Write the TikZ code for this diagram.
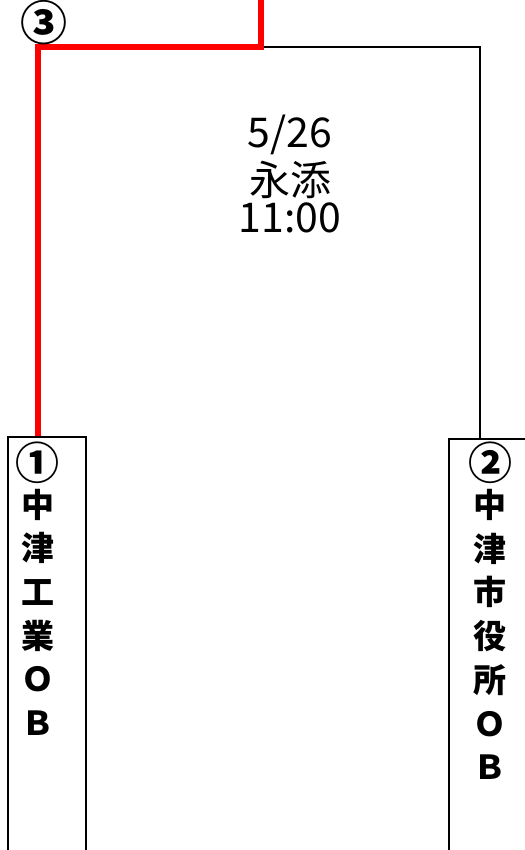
\documentclass[tikz,border=0pt]{standalone}
\usepackage{fontspec}
\newfontfamily\jp{Noto Sans CJK JP}
\begin{document}
\begin{tikzpicture}[x=1pt,y=-1pt,
  team/.style={draw=black,line width=1.3pt,minimum width=78pt,minimum height=415pt,inner sep=0pt},
  vch/.style={inner sep=0pt,font={\jp\bfseries\fontsize{33}{36}\selectfont}},
  num/.style={inner sep=0pt,font={\jp\bfseries\fontsize{44}{48}\selectfont}},
  info/.style={inner sep=0pt,font={\jp\fontsize{41}{44}\selectfont}},
  winline/.style={draw=red,line width=6pt},
  plainline/.style={draw=black,line width=1.3pt}]
\useasboundingbox (0,0) rectangle (524,850);
\node[team] (b1) at (47,644.5) {};
\node[team,minimum width=77pt,minimum height=413pt] (b2) at (487.5,645.5) {};
\coordinate (top) at (261,0);
\coordinate (j) at (261,47);
\draw[plainline] (j) -| ([xshift=-7.5pt]b2.north);
\draw[winline] ([xshift=-9pt]b1.north) |- (j) -- (top);
\node[num] (n1) at (38,463) {①};
\foreach \c [count=\i] in {中,津,工,業,Ｏ,Ｂ}
  \node[vch] (l\i) at (38,461+43.7*\i) {\c};
\node[num] (n2) at (490,463) {②};
\foreach \c [count=\i] in {中,津,市,役,所,Ｏ,Ｂ}
  \node[vch] (r\i) at (490,461+43.8*\i) {\c};
\node[inner sep=0pt,font={\jp\bfseries\fontsize{47}{50}\selectfont}] (c3) at (44,23) {③};
\node[info] (d) at (290,135) {5/26};
\node[info] (v) at (290,180) {永添};
\node[info] (t) at (290,218) {11:00};
\end{tikzpicture}
\end{document}
